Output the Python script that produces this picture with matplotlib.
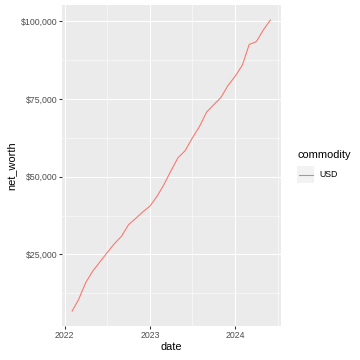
import matplotlib
matplotlib.use("Agg")
import matplotlib.pyplot as plt
import matplotlib.dates as mdates
from matplotlib.patches import Rectangle
from matplotlib.lines import Line2D
import pandas as pd

# ---- data ----
dates = pd.date_range("2022-02-01", "2024-06-01", freq="MS")
net_worth = [6700, 10440, 15950, 19650, 22620, 25520, 28400, 30820, 34530, 36580,
             38670, 40540, 43780, 47320, 51880, 56070, 58370, 62380, 66100, 70820,
             73100, 75470, 79280, 82290, 85910, 92490, 93440, 97220, 100500]
commodity = "USD"
y_ticks = [25000, 50000, 75000, 100000]
y_minor = [12500, 37500, 62500, 87500]
x_ticks = pd.to_datetime(["2022-01-01", "2023-01-01", "2024-01-01"])
x_minor = pd.to_datetime(["2022-07-01", "2023-07-01", "2024-07-01"])

plt.rcParams['font.family'] = ['Liberation Sans', 'DejaVu Sans']

W = H = 360
fig = plt.figure(figsize=(5, 5), dpi=72)
l, r, t, b = 62, 280.6, 5, 326
ax = fig.add_axes([l / W, 1 - b / H, (r - l) / W, (b - t) / H])
ax.set_facecolor("#EBEBEB")

xd = mdates.date2num(dates)
line_color = "#F8766D"
ax.plot(xd, net_worth, color=line_color, lw=1.07, solid_capstyle="butt", zorder=3)

ax.set_xticks(mdates.date2num(x_ticks))
ax.set_xticklabels([str(d.year) for d in x_ticks])
ax.set_xticks(mdates.date2num(x_minor), minor=True)
ax.set_yticks(y_ticks)
ax.set_yticklabels(["${:,}".format(v) for v in y_ticks])
ax.set_yticks(y_minor, minor=True)

# limits with 5% expansion (after ticks so they are not widened)
xs = xd.max() - xd.min()
ax.set_xlim(xd.min() - 0.05 * xs, xd.max() + 0.05 * xs)
ys = max(net_worth) - min(net_worth)
ax.set_ylim(min(net_worth) - 0.05 * ys, max(net_worth) + 0.05 * ys)

ax.grid(which="major", color="white", lw=1.07)
ax.grid(which="minor", color="white", lw=0.53)
ax.set_axisbelow(True)
for s in ax.spines.values():
    s.set_visible(False)

ax.tick_params(which="major", length=2.75, width=1.07, color="#333333",
               labelcolor="#4D4D4D", labelsize=8.8, pad=2.2)
ax.tick_params(which="minor", length=0)

ax.set_xlabel("date", fontsize=11, color="black", labelpad=2.5)
ax.set_ylabel("net_worth", fontsize=11, color="black", labelpad=4)

# legend (ggplot style)
def fx(px):
    return px / W
def fy(py):
    return 1 - py / H

fig.text(fx(297), fy(155), "commodity", fontsize=11, ha="left", va="center", color="black")
key_x, key_y, key_s = 297, 166, 17.28
fig.patches.append(Rectangle((fx(key_x), fy(key_y + key_s)), key_s / W, key_s / H,
                             transform=fig.transFigure, facecolor="#F2F2F2",
                             edgecolor="none"))
fig.lines.append(Line2D([fx(key_x + 1.7), fx(key_x + key_s - 1.7)],
                        [fy(key_y + key_s / 2)] * 2, transform=fig.transFigure,
                        color=line_color, lw=1.07))
fig.text(fx(key_x + key_s + 5.5), fy(key_y + key_s / 2), commodity, fontsize=8.8,
         ha="left", va="center", color="black")

fig.savefig("out.png", dpi=72)
